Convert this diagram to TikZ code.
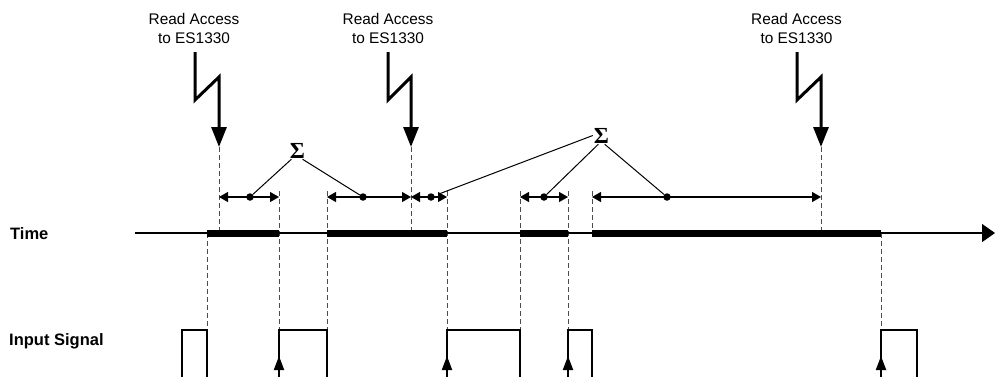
\documentclass[tikz,border=0pt]{standalone}
\usepackage{fontspec}
\setmainfont{Liberation Sans}
\newfontfamily\sigmafont{Liberation Serif}
\usetikzlibrary{arrows.meta}
\begin{document}
\begin{tikzpicture}[x=1pt,y=-1pt,
  lbl/.style={font=\fontsize{15.4}{19}\selectfont, align=center, inner sep=0, anchor=north},
  rowlbl/.style={font=\bfseries\fontsize{16.5}{19}\selectfont, inner sep=0, anchor=base west},
  sig/.style={font=\sigmafont\bfseries\fontsize{23}{23}\selectfont, inner sep=1pt},
  bolt/.style={line width=3pt, -{Triangle[length=20pt,width=15pt]}},
  guide/.style={dash pattern=on 5pt off 3pt, line width=1pt, black!70},
  dimline/.style={line width=1.1pt, {Triangle[length=9pt,width=10pt]}-{Triangle[length=9pt,width=10pt]}},
  dot/.style={circle, fill, inner sep=0, minimum size=7.5pt},
  busy/.style={line width=7pt},
  axisline/.style={line width=1.3pt, -{Triangle[length=13pt,width=18pt]}},
  pulse/.style={line width=2pt},
  rise/.style={line width=2pt, -{Triangle[length=14pt,width=10pt]}},
  conn/.style={line width=1pt}
]
\useasboundingbox (0,0) rectangle (995,376);
\clip (0,0) rectangle (995,376);

% labels
\node[lbl] (r1) at (194,12.8) {Read Access\\to ES1330};
\node[lbl] (r2) at (388,12.8) {Read Access\\to ES1330};
\node[lbl] (r3) at (796.5,12.8) {Read Access\\to ES1330};
\node[rowlbl] (time) at (10,239) {Time};
\node[rowlbl] (input) at (9,345.5) {Input Signal};

% guide lines (dashed)
\foreach \x in {219,411,821} \draw[guide] (\x,147) -- (\x,233);
\foreach \x in {279,327,447,520,568} \draw[guide] (\x,191) -- (\x,330);
\draw[guide] (592,191) -- (592,233);
\foreach \x in {207,881} \draw[guide] (\x,233) -- (\x,330);

% time axis
\draw[axisline] (135,233) -- (995,233);
\foreach \a/\b in {207/279,327/447,520/568,592/881} \draw[busy] (\a,233) -- (\b,233);

% read access bolts
\foreach \l/\r in {195/219,388/411,797/821}
  \draw[bolt] (\l,52) -- (\l,100) -- (\r,77) -- (\r,147);

% dimension lines
\draw[dimline] (219,197) -- (279,197);
\draw[dimline] (327,197) -- (411,197);
\draw[dimline] (411,197) -- (447,197);
\draw[dimline] (520,197) -- (568,197);
\draw[dimline] (592,197) -- (821,197);
\node[dot] (d1) at (250,197) {};
\node[dot] (d2) at (363,197) {};
\node[dot] (d3) at (431,197) {};
\node[dot] (d4) at (544,197) {};
\node[dot] (d5) at (667,197) {};

% sigma nodes
\node[sig] (s1) at (297.5,150.5) {Σ};
\node[sig] (s2) at (601.5,135.5) {Σ};
\draw[conn] (s1.235) -- (d1);
\draw[conn] (s1.300) -- (d2);
\draw[conn, shorten >=4pt] (s2.west) -- (d3);
\draw[conn] (s2.250) -- (d4);
\draw[conn] (s2.290) -- (d5);

% input signal
\foreach \a/\b in {182/207,279/327,447/520,568/592,881/917}
  \draw[pulse] (\a,380) -- (\a,330) -- (\b,330) -- (\b,380);
\foreach \x in {279,447,568,881}
  \draw[rise] (\x,380) -- (\x,356);
\end{tikzpicture}
\end{document}
